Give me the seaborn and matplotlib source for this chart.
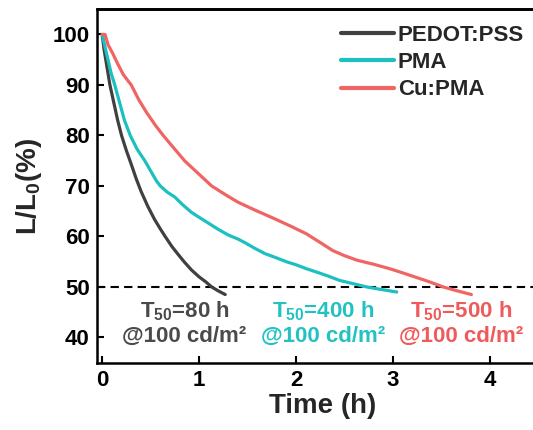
import matplotlib
matplotlib.use("Agg")
import matplotlib.pyplot as plt
from matplotlib.lines import Line2D
import seaborn as sns
import pandas as pd

# ---- data ----
pedot_t = [0, 0.02, 0.05, 0.08, 0.12, 0.16, 0.20, 0.25, 0.30, 0.35, 0.40, 0.47, 0.54, 0.60, 0.65,
           0.72, 0.79, 0.85, 0.92, 1.00, 1.07, 1.13, 1.20, 1.27]
pedot_v = [100, 97, 93.5, 90, 86.5, 83, 80, 77, 74.3, 71.5, 69, 66, 63.4, 61.5, 60,
           58, 56.3, 54.9, 53.4, 52, 51, 50, 49.2, 48.5]

pma_t = [0, 0.03, 0.06, 0.09, 0.13, 0.18, 0.23, 0.29, 0.36, 0.44, 0.50, 0.56, 0.60, 0.67, 0.75,
         0.83, 0.92, 1.00, 1.10, 1.19, 1.30, 1.40, 1.48, 1.58, 1.68, 1.78, 1.90, 2.00, 2.11,
         2.22, 2.34, 2.45, 2.58, 2.73, 2.88, 3.04]
pma_v = [100, 97.5, 95, 92.5, 90, 86.5, 83, 80, 77.3, 75, 73, 71, 70, 68.8, 67.8,
         66.3, 64.8, 63.8, 62.6, 61.5, 60.3, 59.5, 58.7, 57.6, 56.6, 55.9, 55, 54.4, 53.6,
         52.9, 52.1, 51.3, 50.7, 50, 49.5, 49]

cupma_t = [0, 0.03, 0.06, 0.11, 0.16, 0.22, 0.30, 0.38, 0.46, 0.55, 0.63, 0.74, 0.85, 0.99, 1.13,
           1.27, 1.40, 1.58, 1.78, 1.95, 2.11, 2.25, 2.38, 2.50, 2.63, 2.80, 2.97, 3.10, 3.24,
           3.38, 3.52, 3.65, 3.81]
cupma_v = [100, 100, 98, 96.2, 94.2, 92, 90, 87, 84.5, 82, 80, 77.5, 75, 72.5, 70,
           68.3, 66.8, 65.2, 63.5, 62, 60.5, 58.8, 57.2, 56.2, 55.3, 54.5, 53.6, 52.8, 51.9,
           51, 50, 49.3, 48.5]

series_names = ["PEDOT:PSS", "PMA", "Cu:PMA"]
t50_labels = ["80 h", "400 h", "500 h"]
x_ticks = [0, 1, 2, 3, 4]
y_ticks = [40, 50, 60, 70, 80, 90, 100]

line_colors = ["#404040", "#1cc0c0", "#f06464"]
text_colors = ["#4a4a4a", "#22c2c2", "#ef5a5a"]

# ---- style ----
sns.set_style("ticks")
plt.rcParams["font.family"] = ["Liberation Sans", "DejaVu Sans"]
plt.rcParams["font.weight"] = "bold"
plt.rcParams["mathtext.fontset"] = "custom"
plt.rcParams["mathtext.rm"] = "Liberation Sans:bold"
plt.rcParams["mathtext.bf"] = "Liberation Sans:bold"
plt.rcParams["mathtext.it"] = "Liberation Sans:bold"
plt.rcParams["mathtext.default"] = "bf"

frames = []
for name, t, v in zip(series_names, [pedot_t, pma_t, cupma_t], [pedot_v, pma_v, cupma_v]):
    frames.append(pd.DataFrame({"Time": t, "L": v, "Device": name}))
df = pd.concat(frames, ignore_index=True)

fig = plt.figure(figsize=(5.33, 4.30), dpi=100)
ax = fig.add_axes([0.1826, 0.1565, 0.8454, 0.822])

sns.lineplot(data=df, x="Time", y="L", hue="Device", palette=line_colors,
             hue_order=series_names, sort=False, estimator=None, linewidth=2.3, ax=ax)

ax.axhline(50, color="black", linestyle=(0, (4, 2.5)), linewidth=1.5, zorder=1)

ax.set_xlim(-0.05, 4.6)
ax.set_ylim(35, 105)
ax.set_xticks(x_ticks)
ax.set_yticks(y_ticks)
ax.tick_params(direction="in", length=5, width=1.5, labelsize=16, colors="black")
ax.tick_params(axis="x", pad=5)
ax.tick_params(axis="y", pad=5.5)
for lab in ax.get_xticklabels() + ax.get_yticklabels():
    lab.set_fontweight("bold")

ax.set_xlabel("Time (h)", fontsize=20, fontweight="bold", labelpad=2)
ax.set_ylabel("L/L$_0$(%)", fontsize=20, fontweight="bold", labelpad=6)

leg = ax.legend(frameon=False, loc="upper left",
                bbox_to_anchor=(341 / 533, 1 - 25 / 430), bbox_transform=fig.transFigure,
                borderaxespad=0, borderpad=0, handlelength=2.4, handletextpad=0.15,
                labelspacing=0.28, prop={"size": 16, "weight": "bold"})
for line in leg.get_lines():
    line.set_linewidth(3)

text_x = [0.85, 2.28, 3.70]
for x, lab, c in zip(text_x, t50_labels, text_colors):
    ax.text(x, 44.0, "T$_{50}$=" + lab, color=c, fontsize=16, ha="center", va="baseline",
            fontweight="bold")
    ax.text(x, 39.1, "@100 cd/m\u00b2", color=c, fontsize=16, ha="center", va="baseline",
            fontweight="bold")

for sp in ax.spines.values():
    sp.set_visible(True)
    sp.set_color("black")
    sp.set_linewidth(1.8)
    sp.set_zorder(10)

# upper border of the box, drawn at figure level
top_y = 0.1565 + 0.822
fig.add_artist(Line2D([0.1826, 1.0], [top_y, top_y], transform=fig.transFigure,
                      color="black", linewidth=2.0, zorder=20))

fig.savefig("out.png", dpi=100)
